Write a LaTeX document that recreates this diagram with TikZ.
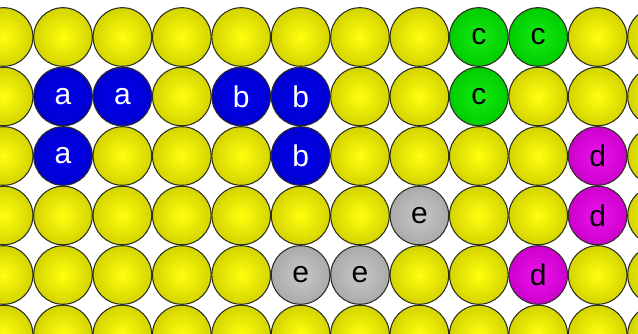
\documentclass[tikz,border=0pt]{standalone}
\usepackage{fontspec}
\setmainfont{Liberation Sans}
\def\setcell#1#2#3{\expandafter\def\csname mycell-#1-#2\endcsname{#3}}
\setcell{0}{8}{c}\setcell{0}{9}{c}
\setcell{1}{1}{a}\setcell{1}{2}{a}\setcell{1}{4}{b}\setcell{1}{5}{b}\setcell{1}{8}{c}
\setcell{2}{1}{a}\setcell{2}{5}{b}\setcell{2}{10}{d}
\setcell{3}{7}{e}\setcell{3}{10}{d}
\setcell{4}{5}{e}\setcell{4}{6}{e}\setcell{4}{9}{d}
\definecolor{yelin}{RGB}{255,255,15}
\definecolor{yelout}{RGB}{212,212,0}
\definecolor{bluein}{RGB}{0,0,235}
\definecolor{blueout}{RGB}{0,0,210}
\definecolor{greenin}{RGB}{20,235,20}
\definecolor{greenout}{RGB}{0,205,0}
\definecolor{magin}{RGB}{235,20,235}
\definecolor{magout}{RGB}{205,0,205}
\definecolor{greyin}{RGB}{200,200,200}
\definecolor{greyout}{RGB}{170,170,170}
\definecolor{rim}{RGB}{45,45,35}
\begin{document}
\begin{tikzpicture}[x=0.75pt,y=-0.75pt,
  ball/.style={circle, draw=rim, line width=0.8pt, minimum size=58.6*0.75pt, inner sep=0pt,
    font=\fontsize{22.5}{22.5}\selectfont, shading=radial},
  ballyel/.style={ball, inner color=yelin, outer color=yelout},
  balla/.style={ball, inner color=bluein, outer color=blueout, text=white},
  ballb/.style={ball, inner color=bluein, outer color=blueout, text=white},
  ballc/.style={ball, inner color=greenin, outer color=greenout, text=black},
  balld/.style={ball, inner color=magin, outer color=magout, text=black},
  balle/.style={ball, inner color=greyin, outer color=greyout, text=black}]
\useasboundingbox (0,0) rectangle (638,334);
\clip (0,0) rectangle (638,334);
\foreach \row in {0,...,5}{
  \foreach \col in {0,...,11}{
    \ifcsname mycell-\row-\col\endcsname
      \edef\lab{\csname mycell-\row-\col\endcsname}
      \node[ball\lab] (n\row-\col) at ({3.6+59.4*\col},{37+59.5*\row}) {\lab};
    \else
      \node[ballyel] (n\row-\col) at ({3.6+59.4*\col},{37+59.5*\row}) {};
    \fi
  }
}
\end{tikzpicture}
\end{document}
